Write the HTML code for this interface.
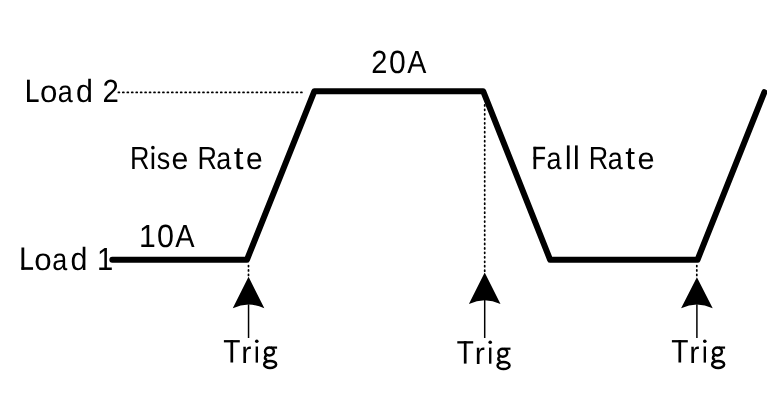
<!DOCTYPE html>
<html><head><meta charset="utf-8"><style>
html,body{margin:0;padding:0;background:#fff;}
body{width:767px;height:414px;overflow:hidden;}
svg{display:block;will-change:transform;filter:blur(0.35px);font-family:"Liberation Sans",sans-serif;}
</style></head><body>
<svg width="767" height="414" viewBox="0 0 767 414">
<rect width="767" height="414" fill="#fff"/>
<g stroke="#000" stroke-width="1.75" stroke-linecap="round" fill="none">
<line x1="118.40" y1="92.4" x2="301.89" y2="92.4" stroke-dasharray="1.0 3.451"/>
<line x1="484.7" y1="104.90" x2="484.7" y2="271.22" stroke-dasharray="1.0 3.468"/>
<line x1="248.5" y1="265.50" x2="248.5" y2="275.40" stroke-dasharray="1.0 3.450"/>
<line x1="696.8" y1="265.50" x2="696.8" y2="275.40" stroke-dasharray="1.0 3.450"/>
</g>
<path d="M112.3 259.8 L246.9 259.8 L314.3 91.3 L483.25 91.3 L550.15 259.8 L697.5 259.8 L764.4 92.2" fill="none" stroke="#000" stroke-width="6.0" stroke-linejoin="round" stroke-linecap="round"/>
<path d="M248.55 276.80 L264.35 308.30 Q248.55 300.90 232.75 308.30 Z" fill="#000"/><line x1="248.55" y1="304.30" x2="248.55" y2="338" stroke="#000" stroke-width="1.5"/>
<path d="M484.70 272.60 L500.50 304.00 Q484.70 296.60 468.90 304.00 Z" fill="#000"/><line x1="484.70" y1="300.00" x2="484.70" y2="338" stroke="#000" stroke-width="1.5"/>
<path d="M696.90 277.20 L712.70 308.30 Q696.90 300.90 681.10 308.30 Z" fill="#000"/><line x1="696.90" y1="304.30" x2="696.90" y2="338" stroke="#000" stroke-width="1.5"/>
<g font-family="Liberation Sans, sans-serif" font-size="32.1" fill="#000" text-rendering="geometricPrecision">
<text transform="translate(39.88 102.00) scale(0.976 0.96)">o</text>
<text transform="translate(57.78 102.00) scale(0.840 0.96)">a</text>
<text transform="translate(76.02 102.00) scale(0.949 1.0)">d</text>
<text transform="translate(102.52 102.00) scale(0.916 1.0)">2</text>
<text transform="translate(34.33 269.80) scale(0.976 0.96)">o</text>
<text transform="translate(52.23 269.80) scale(0.840 0.96)">a</text>
<text transform="translate(70.47 269.80) scale(0.949 1.0)">d</text>
<text transform="translate(96.97 269.80) scale(0.910 1.0)">1</text>
<text transform="translate(138.90 246.70) scale(0.939 1.0)">1</text>
<text transform="translate(156.91 246.70) scale(0.951 1.0)">0</text>
<text transform="translate(175.14 246.70) scale(0.902 1.0)">A</text>
<text transform="translate(371.34 73.10) scale(0.903 1.0)">2</text>
<text transform="translate(389.02 73.10) scale(0.938 1.0)">0</text>
<text transform="translate(407.24 73.10) scale(0.893 1.0)">A</text>
<text transform="translate(129.88 169.10) scale(0.840 1.0)">R</text>
<text transform="translate(156.87 169.10) scale(0.840 0.96)">s</text>
<text transform="translate(171.41 169.10) scale(0.943 0.96)">e</text>
<text transform="translate(197.58 169.10) scale(0.840 1.0)">R</text>
<text transform="translate(216.28 169.10) scale(0.840 0.96)">a</text>
<text transform="translate(233.86 169.10) scale(1.100 1.0)">t</text>
<text transform="translate(246.12 169.10) scale(0.936 0.96)">e</text>
<text transform="translate(546.58 169.10) scale(0.840 0.96)">a</text>
<text transform="translate(588.68 169.10) scale(0.840 1.0)">R</text>
<text transform="translate(607.68 169.10) scale(0.840 0.96)">a</text>
<text transform="translate(625.31 169.10) scale(1.100 1.0)">t</text>
<text transform="translate(637.40 169.10) scale(0.956 0.96)">e</text>
<text transform="translate(241.28 362.50) scale(0.947 0.96)">r</text>
<text transform="translate(474.68 363.60) scale(0.947 0.96)">r</text>
<text transform="translate(689.28 362.50) scale(0.947 0.96)">r</text>
</g>
<defs><g id="gg" fill="none" stroke="#000" stroke-width="2.5">
<ellipse cx="269.45" cy="351.6" rx="4.4" ry="4.0"/>
<path d="M271 347.6 L277.1 347.6" stroke-width="2.2"/>
<path d="M266.6 355.4 C264.4 356.6 264.2 359.4 267.2 359.9"/>
<ellipse cx="270.15" cy="364.4" rx="6.0" ry="3.5"/>
</g></defs>
<g fill="#000"><rect x="27.00" y="79.70" width="2.80" height="22.30"/>
<rect x="27.00" y="99.40" width="11.60" height="2.60"/>
<rect x="21.45" y="247.50" width="2.80" height="22.30"/>
<rect x="21.45" y="267.20" width="11.60" height="2.60"/>
<rect x="533.50" y="146.80" width="2.70" height="22.30"/>
<rect x="533.50" y="146.80" width="11.60" height="2.50"/>
<rect x="533.50" y="156.90" width="11.30" height="2.40"/>
<rect x="566.90" y="145.40" width="2.70" height="23.70"/>
<rect x="575.00" y="145.40" width="2.70" height="23.70"/>
<rect x="151.65" y="152.70" width="2.50" height="16.30"/>
<circle cx="152.9" cy="147.65" r="1.8"/>
<rect x="223.90" y="340.10" width="15.90" height="2.30"/>
<rect x="230.45" y="340.10" width="2.70" height="22.40"/>
<rect x="255.65" y="346.50" width="2.35" height="16.10"/>
<circle cx="256.80" cy="341.20" r="1.8"/>
<rect x="457.30" y="341.20" width="15.90" height="2.30"/>
<rect x="463.85" y="341.20" width="2.70" height="22.40"/>
<rect x="489.05" y="347.60" width="2.35" height="16.10"/>
<circle cx="490.20" cy="342.30" r="1.8"/>
<rect x="671.90" y="340.10" width="15.90" height="2.30"/>
<rect x="678.45" y="340.10" width="2.70" height="22.40"/>
<rect x="703.65" y="346.50" width="2.35" height="16.10"/>
<circle cx="704.80" cy="341.20" r="1.8"/></g>
<use href="#gg" transform="translate(0.00 0.00)"/>
<use href="#gg" transform="translate(233.40 1.10)"/>
<use href="#gg" transform="translate(448.00 0.00)"/>
</svg>
</body></html>
